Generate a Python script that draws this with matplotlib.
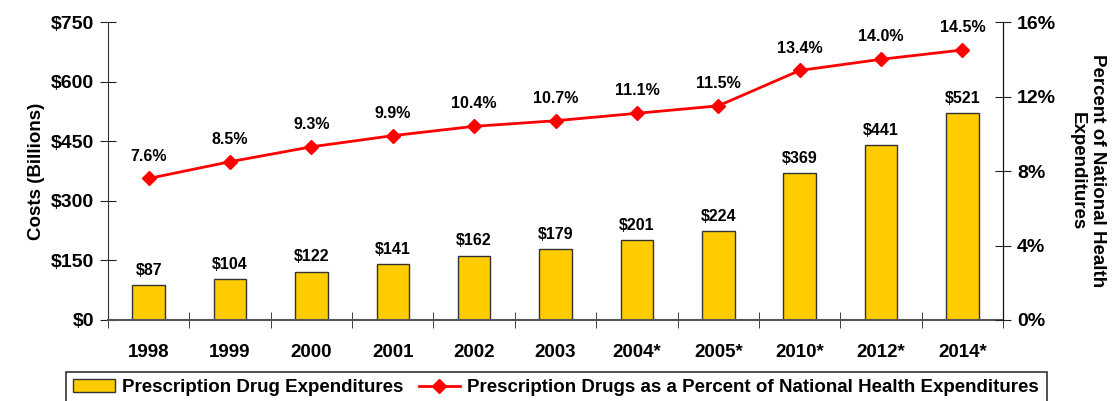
import numpy as np
import matplotlib
matplotlib.use("Agg")
import matplotlib.pyplot as plt

plt.rcParams['font.family'] = ['Liberation Sans', 'DejaVu Sans']
plt.rcParams['font.weight'] = 'bold'

years = ['1998', '1999', '2000', '2001', '2002', '2003', '2004*', '2005*', '2010*', '2012*', '2014*']
costs = [87, 104, 122, 141, 162, 179, 201, 224, 369, 441, 521]
pct = [7.6, 8.5, 9.3, 9.9, 10.4, 10.7, 11.1, 11.5, 13.4, 14.0, 14.5]

fig = plt.figure(figsize=(11.17, 4.01), dpi=100)
ax = fig.add_axes([0.0967, 0.202, 0.8013, 0.743])
ax2 = ax.twinx()

x = np.arange(len(years))
bars = ax.bar(x, costs, width=0.4, color='#FFCC00', edgecolor='#333333', linewidth=1,
              label='Prescription Drug Expenditures', zorder=2)
for xi, c in zip(x, costs):
    ax.text(xi, c + 18, '$%d' % c, ha='center', va='bottom', fontsize=11.5, fontweight='bold')

ax.set_xlim(-0.5, len(years) - 0.5)
ax.set_ylim(0, 750)
ax.set_yticks([0, 150, 300, 450, 600, 750])
ax.set_yticklabels(['$0', '$150', '$300', '$450', '$600', '$750'], fontsize=14, fontweight='bold')
ax.set_xticks(x)
ax.set_xticklabels(years, fontsize=13.5, fontweight='bold')
ax.set_xticks(np.arange(-0.5, len(years)), minor=True)
ax.tick_params(axis='x', which='major', length=0, pad=17)
ax.tick_params(axis='x', which='minor', length=12, direction='inout', color='#222222')
ax.tick_params(axis='y', length=12, direction='inout', color='#222222', pad=4)
ax.set_ylabel('Costs (Billions)', fontsize=13.5, fontweight='bold', labelpad=4)

line, = ax2.plot(x, pct, color='#FF0000', linewidth=2, marker='D', markersize=7,
                 label='Prescription Drugs as a Percent of National Health Expenditures', zorder=3)
for xi, p in zip(x, pct):
    ax2.text(xi, p + 0.8, '%.1f%%' % p, ha='center', va='bottom', fontsize=11.5, fontweight='bold')
ax2.set_ylim(0, 16)
ax2.set_yticks([0, 4, 8, 12, 16])
ax2.set_yticklabels(['0%', '4%', '8%', '12%', '16%'], fontsize=14, fontweight='bold')
ax2.tick_params(axis='y', length=12, direction='inout', color='#222222', pad=4)
ax2.set_ylabel('Percent of National Health\nExpenditures', fontsize=13.5, fontweight='bold',
               rotation=270, labelpad=36, linespacing=1.25)

for a in (ax, ax2):
    a.spines['top'].set_visible(False)
ax.spines['left'].set_color('#333333')
ax.spines['bottom'].set_color('#555555')
ax.spines['bottom'].set_linewidth(1.5)
ax2.spines['right'].set_color('#111111')
ax2.spines['left'].set_visible(False)
ax2.spines['bottom'].set_visible(False)

leg = fig.legend(handles=[bars, line], loc='lower center', bbox_to_anchor=(0.498, -0.03), ncol=2,
                 frameon=True, fancybox=False, edgecolor='black',
                 handlelength=2.2, handletextpad=0.4, columnspacing=0.8, borderpad=0.4,
                 prop={'weight': 'bold', 'size': 13.5})
leg.get_frame().set_linewidth(1.2)

fig.savefig('out.png', dpi=100)
